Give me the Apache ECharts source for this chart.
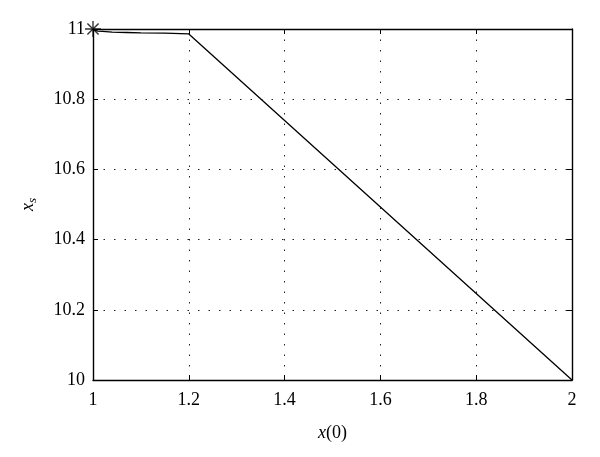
<!DOCTYPE html>
<html><head><meta charset="utf-8">
<script src="https://cdn.jsdelivr.net/npm/echarts@6/dist/echarts.min.js"></script>
<style>html,body{margin:0;padding:0;background:#fff}#c{width:600px;height:457px}</style>
</head><body><div id="c"></div>
<script>
const xValues = [1, 1.005, 1.01, 1.02, 1.04, 1.07, 1.1, 1.15, 1.2, 2];
const ysValues = [11, 10.996, 10.994, 10.993, 10.991, 10.990, 10.989, 10.988, 10.986, 10];
const startPoint = [[1, 11]];
const xTicks = [1, 1.2, 1.4, 1.6, 1.8, 2];
const yTicks = [10, 10.2, 10.4, 10.6, 10.8, 11];

const font = "'Liberation Serif', 'DejaVu Serif', serif";
const chart = echarts.init(document.getElementById('c'), null, {renderer: 'canvas'});
const axisCommon = {
  axisLine: {show: true, onZero: false, lineStyle: {color: '#000', width: 1.4}},
  axisTick: {show: true, inside: true, length: 5, lineStyle: {color: '#000'}},
  splitLine: {show: false}
};
chart.setOption({
  animation: false,
  backgroundColor: '#fff',
  grid: {left: 93, right: 28, top: 29, bottom: 77, containLabel: false},
  xAxis: [
    Object.assign({}, axisCommon, {
      type: 'value', min: 1, max: 2, interval: 0.2, position: 'bottom',
      axisLabel: {color: '#000', fontFamily: font, fontSize: 18, margin: 11,
        formatter: v => String(Math.round(v * 10) / 10)},
      splitLine: {show: true, lineStyle: {color: '#222', type: [1.5, 9], width: 1}},
      name: '{i|x}(0)', nameLocation: 'middle', nameGap: 44,
      nameTextStyle: {color: '#000', fontFamily: font, fontSize: 18,
        rich: {i: {fontStyle: 'italic', fontFamily: font, fontSize: 18, color: '#000'}}}
    }),
    Object.assign({}, axisCommon, {
      type: 'value', min: 1, max: 2, interval: 0.2, position: 'top',
      axisLabel: {show: false}
    })
  ],
  yAxis: [
    Object.assign({}, axisCommon, {
      type: 'value', min: 10, max: 11, interval: 0.2, position: 'left',
      axisLabel: {color: '#000', fontFamily: font, fontSize: 18, margin: 8,
        formatter: v => String(Math.round(v * 10) / 10)},
      splitLine: {show: true, lineStyle: {color: '#222', type: [1.5, 9], width: 1}},
      name: '{i|x}{s|s}', nameLocation: 'middle', nameGap: 54, nameRotate: 90,
      nameTextStyle: {color: '#000', fontFamily: font, fontSize: 18,
        rich: {i: {fontStyle: 'italic', fontFamily: font, fontSize: 18, color: '#000'},
               s: {fontStyle: 'italic', fontFamily: font, fontSize: 13, color: '#000', verticalAlign: 'bottom', padding: [8, 0, 0, 0]}}}
    }),
    Object.assign({}, axisCommon, {
      type: 'value', min: 10, max: 11, interval: 0.2, position: 'right',
      axisLabel: {show: false}
    })
  ],
  series: [
    {
      type: 'line', xAxisIndex: 0, yAxisIndex: 0,
      data: xValues.map((x, i) => [x, ysValues[i]]),
      showSymbol: false, symbol: 'none',
      lineStyle: {color: '#000', width: 1.3}, z: 5
    },
    {
      type: 'scatter', xAxisIndex: 0, yAxisIndex: 0,
      data: startPoint, symbol: 'path://M0,5 L10,5 M5,0 L5,10 M1.5,1.5 L8.5,8.5 M8.5,1.5 L1.5,8.5',
      symbolSize: 16,
      itemStyle: {color: 'transparent', borderColor: '#000', borderWidth: 1.4}, z: 6
    }
  ]
});
</script></body></html>
